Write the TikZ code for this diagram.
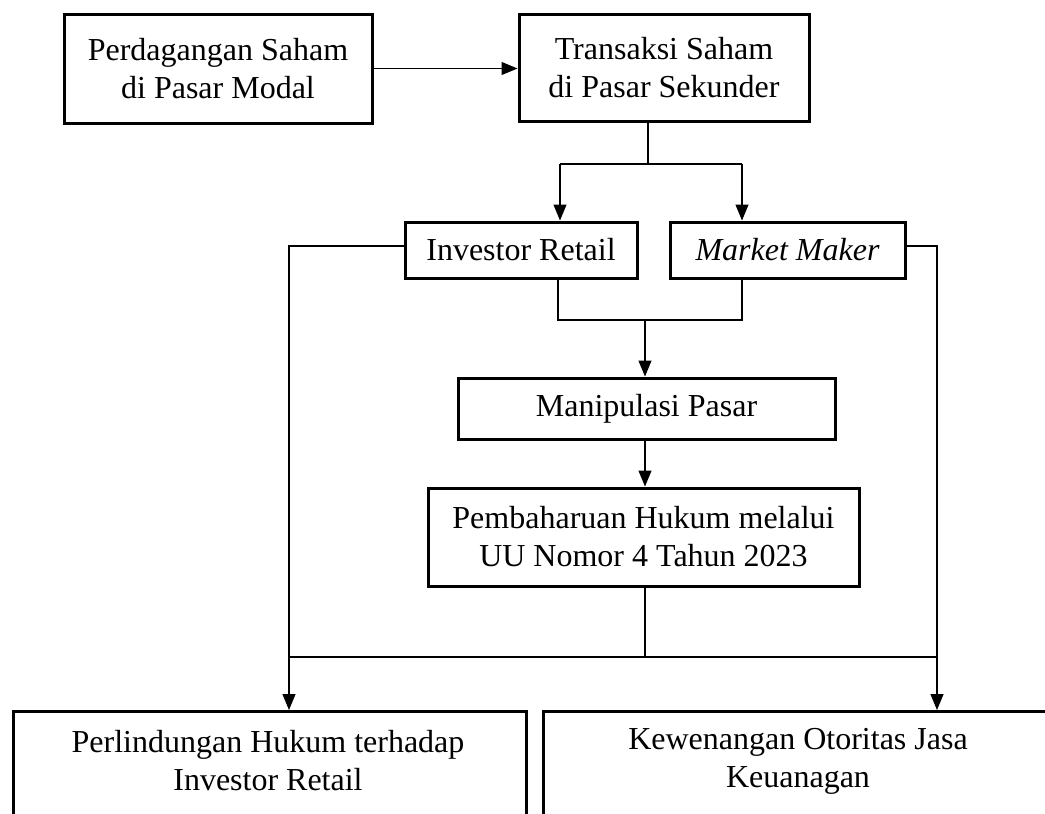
\documentclass[tikz,border=0pt]{standalone}
\usepackage{fontspec}
\setmainfont{Liberation Serif}
\usetikzlibrary{arrows.meta,calc}
\begin{document}
\begin{tikzpicture}[x=1pt,y=-1pt,
  box/.style={draw,line width=3pt,rectangle,inner sep=0pt,align=center,
    font=\fontsize{32}{38}\selectfont},
  txt/.style={inner sep=0pt,align=center,font=\fontsize{32}{38}\selectfont},
  conn/.style={line width=1.2pt},
  arr/.style={line width=1.2pt,-{Triangle[length=16pt,width=13pt]}}]
\useasboundingbox (0,0) rectangle (1045,814);
\node[box,minimum width=308pt,minimum height=109pt] (perd) at (218,68.5) {Perdagangan Saham\\di Pasar Modal};
\node[box,minimum width=290pt,minimum height=107pt] (trans) at (664,67.5) {Transaksi Saham\\di Pasar Sekunder};
\node[box,minimum width=232pt,minimum height=56pt] (ir) at (521,250) {Investor Retail};
\node[box,minimum width=235pt,minimum height=56pt] (mm) at (787.5,250) {\itshape Market Maker};
\node[box,minimum width=377pt,minimum height=61pt] (manip) at (646.5,408.5) {Manipulasi Pasar};
\node[box,minimum width=431pt,minimum height=98pt] (pemb) at (643.5,537) {Pembaharuan Hukum melalui\\UU Nomor 4 Tahun 2023};
\node[box,minimum width=513pt,minimum height=130pt,anchor=north west] (perl) at (12,710) {};
\node[txt] (perlT) at (268,761) {Perlindungan Hukum terhadap\\Investor Retail};
\node[box,minimum width=513pt,minimum height=130pt,anchor=north west] (kew) at (542,710) {};
\node[txt] (kewT) at (798,761) {Kewenangan Otoritas Jasa\\Keuanagan};
% connectors
\draw[arr] (perd.east) -- (trans.west |- perd.east);
\coordinate (t1) at (648,164);
\coordinate (tl) at (560,164);
\coordinate (tr) at (742,164);
\draw[conn] (trans.south -| t1) -- (t1);
\draw[conn] (tl) -- (tr);
\draw[arr] (tl) -- (ir.north -| tl);
\draw[arr] (tr) -- (mm.north -| tr);
\coordinate (bl) at (558,320);
\coordinate (br) at (742,320);
\coordinate (bm) at (645,320);
\draw[conn] (ir.south -| bl) -- (bl) -- (br) -- (mm.south -| br);
\draw[arr] (bm) -- (manip.north -| bm);
\draw[arr] (manip.south -| bm) -- (pemb.north -| bm);
\coordinate (j) at (645,657);
\coordinate (jl) at (289,657);
\coordinate (jr) at (937,657);
\draw[conn] (pemb.south -| j) -- (j);
\draw[conn] (jl) -- (jr);
\coordinate (lt) at (289,246);
\coordinate (rt) at (937,246);
\draw[arr] (ir.west |- lt) -- (lt) -- (perl.north -| lt);
\draw[arr] (mm.east |- rt) -- (rt) -- (kew.north -| rt);
\end{tikzpicture}
\end{document}
